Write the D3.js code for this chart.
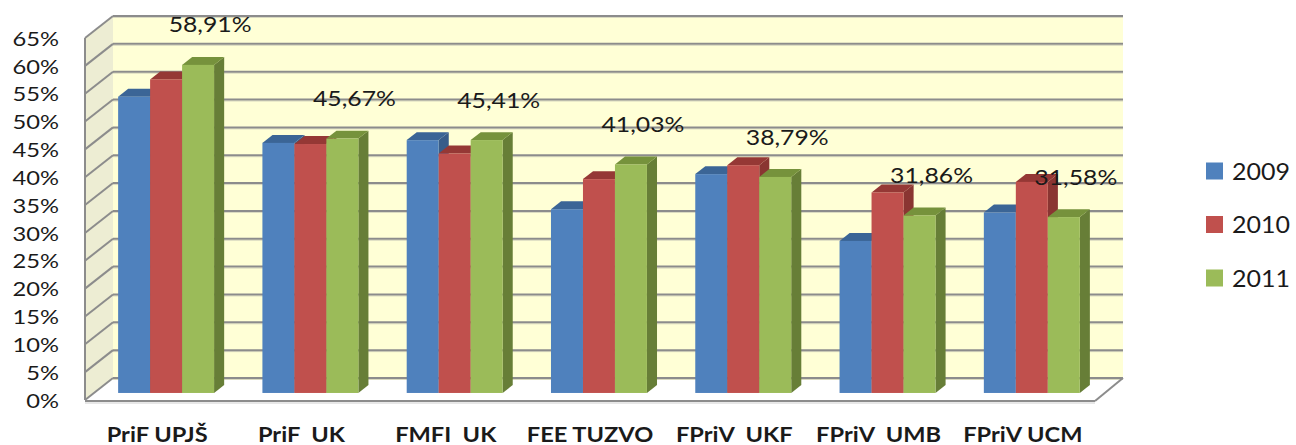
<!DOCTYPE html>
<html>
<head>
<meta charset="utf-8">
<script src="https://cdn.jsdelivr.net/npm/d3@7/dist/d3.min.js"></script>
<style>
  html, body { margin: 0; padding: 0; background: #ffffff; }
  svg { display: block; }
  text { font-family: Lato, "Open Sans", sans-serif; fill: #1a1a1a; white-space: pre; }
</style>
</head>
<body>
<svg id="chart" width="1296" height="445"></svg>
<script>
// ---------------- data ----------------
const categories = ["PriF UPJŠ", "PriF  UK", "FMFI  UK", "FEE TUZVO", "FPriV  UKF", "FPriV  UMB", "FPriV UCM"];
const years = ["2009", "2010", "2011"];
const values2009 = [53.2, 44.9, 45.4, 33.0, 39.3, 27.3, 32.4];
const values2010 = [56.3, 44.7, 43.0, 38.4, 40.9, 36.0, 37.9];
const values2011 = [58.91, 45.67, 45.41, 41.03, 38.79, 31.86, 31.58];
const yTickValues = [0, 5, 10, 15, 20, 25, 30, 35, 40, 45, 50, 55, 60, 65];

// ---------------- layout ----------------
const svg = d3.select("#chart");
const DX = 28, DY = -22;          // 3-D depth offset (front -> back)
const D1 = 0.32, D2 = 0.68;       // bar depth span
const colors = { "2009": "#4F81BD", "2010": "#C0504D", "2011": "#9BBB59" };
const topColors = { "2009": "#3B6596", "2010": "#953835", "2011": "#76923C" };
const sideColors = { "2009": "#385D8A", "2010": "#8A3532", "2011": "#677E37" };
const seriesValues = { "2009": values2009, "2010": values2010, "2011": values2011 };

const x = d3.scaleBand().domain(categories).range([85, 1095]).paddingInner(0.335).paddingOuter(0.1675);
const xs = d3.scaleBand().domain(years).range([0, x.bandwidth()]);
const y = d3.scaleLinear().domain([0, 65]).range([400, 38]);

const x0 = x.range()[0], x1 = x.range()[1];
const yBottom = y(0), yTop = y(65);

// walls
const g = svg.append("g");
g.append("polygon")
  .attr("points", [[x0, yTop], [x0 + DX, yTop + DY], [x0 + DX, yBottom + DY], [x0, yBottom]].join(" "))
  .attr("fill", "#EDEDD3");
g.append("polygon")
  .attr("points", [[x0 + DX, yTop + DY], [x1 + DX, yTop + DY], [x1 + DX, yBottom + DY], [x0 + DX, yBottom + DY]].join(" "))
  .attr("fill", "#FFFFD6");
g.append("polygon")
  .attr("points", [[x0, yBottom], [x0 + DX, yBottom + DY], [x1 + DX, yBottom + DY], [x1, yBottom]].join(" "))
  .attr("fill", "#FFFFFF");

// gridlines (back wall + left wall)
const grid = g.append("g");
yTickValues.forEach(t => {
  const yy = y(t);
  grid.append("line")
    .attr("x1", x0 + DX).attr("x2", x1 + DX)
    .attr("y1", yy + DY + 1.5).attr("y2", yy + DY + 1.5)
    .attr("stroke", "#D9D9C0").attr("stroke-width", 1);
  grid.append("line")
    .attr("x1", x0 + DX).attr("x2", x1 + DX)
    .attr("y1", yy + DY).attr("y2", yy + DY)
    .attr("stroke", "#8C8C8C").attr("stroke-width", 2);
  grid.append("line")
    .attr("x1", x0).attr("x2", x0 + DX)
    .attr("y1", yy).attr("y2", yy + DY)
    .attr("stroke", "#8C8C8C").attr("stroke-width", 2);
});
// front-left vertical edge and floor edges
g.append("line").attr("x1", x0).attr("x2", x0).attr("y1", yTop).attr("y2", yBottom)
  .attr("stroke", "#8C8C8C").attr("stroke-width", 2);
g.append("line").attr("x1", x0).attr("x2", x1).attr("y1", yBottom + 1).attr("y2", yBottom + 1)
  .attr("stroke", "#8C8C8C").attr("stroke-width", 2);
g.append("line").attr("x1", x0).attr("x2", x1).attr("y1", yBottom + 3).attr("y2", yBottom + 3)
  .attr("stroke", "#D0D0D0").attr("stroke-width", 1);
g.append("line").attr("x1", x1).attr("x2", x1 + DX).attr("y1", yBottom + 1).attr("y2", yBottom + DY)
  .attr("stroke", "#8C8C8C").attr("stroke-width", 2);

// bars
const ddx = DX * (D2 - D1), ddy = DY * (D2 - D1);
const bars = svg.append("g");
categories.forEach((cat, i) => {
  years.forEach(yr => {
    const v = seriesValues[yr][i];
    const xl = x(cat) + xs(yr) + DX * D1;
    const xr = xl + xs.bandwidth();
    const yt = y(v) + DY * D1;
    const yb = y(0) + DY * D1;
    const bg = bars.append("g");
    bg.append("polygon")
      .attr("points", [[xr, yt], [xr + ddx, yt + ddy], [xr + ddx, yb + ddy], [xr, yb]].join(" "))
      .attr("fill", sideColors[yr]);
    bg.append("polygon")
      .attr("points", [[xl, yt], [xr, yt], [xr + ddx, yt + ddy], [xl + ddx, yt + ddy]].join(" "))
      .attr("fill", topColors[yr]);
    bg.append("rect")
      .attr("x", xl).attr("y", yt).attr("width", xr - xl).attr("height", yb - yt)
      .attr("fill", colors[yr]);
  });
});

// helper: stretch text horizontally to a target width for a reference string
function stretchFactor(sample, font, targetWidth) {
  const t = svg.append("text").style("font", font).text(sample);
  const w = t.node().getComputedTextLength();
  t.remove();
  return targetWidth / w;
}

// y axis labels
const axisFont = "400 20px Lato";
const sxAxis = stretchFactor("65%", axisFont, 46.5);
const yAxis = d3.axisLeft(y).tickValues(yTickValues).tickFormat(d => d + "%").tickSize(0).tickPadding(0);
const yAxisG = svg.append("g").attr("transform", "translate(59,0)").call(yAxis);
yAxisG.select(".domain").remove();
yAxisG.selectAll(".tick text")
  .attr("x", 0).attr("dy", "0.36em")
  .attr("fill", "#1a1a1a")
  .style("font", axisFont)
  .attr("transform", `scale(${sxAxis},1)`);

// x axis labels
const catFont = "700 21px Lato";
const sxCat = stretchFactor("PriF UPJŠ", catFont, 101);
const xAxis = d3.axisBottom(x).tickSize(0).tickPadding(0);
const xAxisG = svg.append("g").attr("transform", "translate(0,441.5)").call(xAxis);
xAxisG.select(".domain").remove();
xAxisG.selectAll(".tick text")
  .attr("y", 0).attr("dy", 0)
  .attr("fill", "#1a1a1a")
  .style("font", catFont)
  .style("white-space", "pre")
  .attr("transform", `scale(${sxCat},1)`);

// value labels (2011)
const valFont = "400 21px Lato";
const sxVal = stretchFactor("58,91%", valFont, 83);
const fmt = v => d3.format(".2f")(v).replace(".", ",") + "%";
svg.append("g").selectAll("text")
  .data(categories)
  .join("text")
  .attr("transform", (c, i) => {
    const cx = x(c) + xs("2011") + xs.bandwidth() / 2 + DX * D1 + 12;
    const cy = y(values2011[i]) + DY * D1 - 40;
    return `translate(${cx},${cy}) scale(${sxVal},1)`;
  })
  .attr("text-anchor", "middle")
  .attr("dy", "0.36em")
  .style("font", valFont)
  .text((c, i) => fmt(values2011[i]));

// legend
const legY = d3.scalePoint().domain(years).range([171, 278]);
const legFont = "400 24px Lato";
const sxLeg = stretchFactor("2009", legFont, 58);
const leg = svg.append("g");
years.forEach(yr => {
  leg.append("rect").attr("x", 1206).attr("y", legY(yr) - 8.5).attr("width", 17).attr("height", 17)
    .attr("fill", colors[yr]);
  leg.append("text")
    .attr("transform", `translate(1232,${legY(yr)}) scale(${sxLeg},1)`)
    .attr("dy", "0.36em")
    .style("font", legFont)
    .text(yr);
});
</script>
</body>
</html>
